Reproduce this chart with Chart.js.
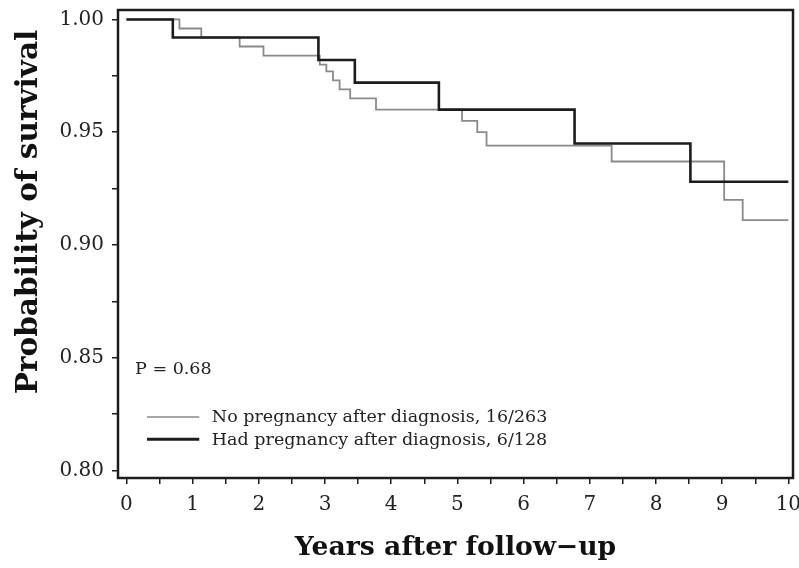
<!DOCTYPE html>
<html>
<head>
<meta charset="utf-8">
<script src="https://cdn.jsdelivr.net/npm/chart.js@4.4.1/dist/chart.umd.min.js"></script>
<style>
  html, body { margin: 0; padding: 0; background: #fff; }
  #wrap { width: 799px; height: 568px; }
</style>
</head>
<body>
<div id="wrap"><canvas id="km"></canvas></div>
<script>
// Kaplan-Meier curves (time in years, survival probability)
var noPregTime = [0, 0.80, 1.13, 1.71, 2.07, 2.92, 3.02, 3.12, 3.22, 3.38, 3.77, 5.07, 5.30, 5.44, 7.33, 9.03, 9.31, 10.0];
var noPregSurv = [1.000, 0.996, 0.992, 0.988, 0.984, 0.980, 0.977, 0.973, 0.969, 0.965, 0.960, 0.955, 0.950, 0.944, 0.937, 0.920, 0.911, 0.911];
var hadPregTime = [0, 0.70, 2.90, 3.45, 4.72, 6.77, 8.52, 10.0];
var hadPregSurv = [1.000, 0.992, 0.982, 0.972, 0.960, 0.945, 0.928, 0.928];

var seriesLabels = ['No pregnancy after diagnosis, 16/263', 'Had pregnancy after diagnosis, 6/128'];
var pValueText = 'P = 0.68';
var yTitle = 'Probability of survival';

var xTickValues = [0, 0.5, 1, 1.5, 2, 2.5, 3, 3.5, 4, 4.5, 5, 5.5, 6, 6.5, 7, 7.5, 8, 8.5, 9, 9.5, 10];
var xTickLabels = ['0', '1', '2', '3', '4', '5', '6', '7', '8', '9', '10'];
var yTickValues = [0.800, 0.825, 0.850, 0.875, 0.900, 0.925, 0.950, 0.975, 1.000];
var yTickLabels = ['0.80', '0.85', '0.90', '0.95', '1.00'];

function toPoints(xs, ys) {
    return xs.map(function(x, i) { return { x: x, y: ys[i] }; });
}

var FONT = "'DejaVu Serif', 'Liberation Serif', serif";
var INK = '#1c1c1c';

// frame box round the plot, y title, legend and p-value inside the plot
var boxAndNotes = {
    id: 'boxAndNotes',
    afterDraw: function(chart) {
        var c = chart.ctx, a = chart.chartArea;
        var xs = chart.scales.x, ys = chart.scales.y;
        c.save();
        c.strokeStyle = INK;
        c.lineWidth = 2.5;
        c.strokeRect(a.left, a.top, a.right - a.left, a.bottom - a.top);

        // y title sits a bit above the middle of the axis, as in the original
        c.save();
        c.translate(29, 212);
        c.rotate(-Math.PI / 2);
        c.fillStyle = '#111';
        c.font = 'bold 29.5px ' + FONT;
        c.textAlign = 'center';
        c.textBaseline = 'middle';
        c.fillText(yTitle, 0, 0);
        c.restore();

        c.fillStyle = '#222';
        c.font = '17.5px ' + FONT;
        c.textBaseline = 'middle';
        c.fillText(pValueText, xs.getPixelForValue(0.13), ys.getPixelForValue(0.8448));

        var rows = [
            { y: 0.8237, color: '#8a8a8a', width: 1.5, text: seriesLabels[0] },
            { y: 0.8138, color: INK, width: 2.8, text: seriesLabels[1] }
        ];
        rows.forEach(function(r) {
            var py = ys.getPixelForValue(r.y);
            c.strokeStyle = r.color;
            c.lineWidth = r.width;
            c.beginPath();
            c.moveTo(xs.getPixelForValue(0.31), py);
            c.lineTo(xs.getPixelForValue(1.10), py);
            c.stroke();
            c.fillText(r.text, xs.getPixelForValue(1.29), py + 1);
        });
        c.restore();
    }
};

new Chart(document.getElementById('km').getContext('2d'), {
    type: 'line',
    data: {
        datasets: [
            {
                label: seriesLabels[1],
                data: toPoints(hadPregTime, hadPregSurv),
                stepped: true,
                borderColor: INK,
                borderWidth: 2.6,
                pointRadius: 0,
                fill: false
            },
            {
                label: seriesLabels[0],
                data: toPoints(noPregTime, noPregSurv),
                stepped: true,
                borderColor: '#8a8a8a',
                borderWidth: 1.8,
                pointRadius: 0,
                fill: false
            }
        ]
    },
    options: {
        responsive: true,
        maintainAspectRatio: false,
        animation: false,
        layout: { padding: { top: 10, right: 6, left: 0, bottom: 0 } },
        plugins: {
            legend: { display: false },
            tooltip: { enabled: false }
        },
        scales: {
            x: {
                type: 'linear',
                min: -0.128,
                max: 10.07,
                afterFit: function(s) { s.height = 90; s.paddingLeft = 0; s.paddingRight = 0; },
                afterBuildTicks: function(s) {
                    s.ticks = xTickValues.map(function(v) { return { value: v }; });
                },
                border: { display: false },
                grid: { drawOnChartArea: false, drawTicks: true, tickLength: 6, color: INK, lineWidth: 1.5 },
                ticks: {
                    autoSkip: false,
                    maxRotation: 0,
                    padding: 9,
                    color: '#222',
                    font: { family: FONT, size: 20 },
                    callback: function(v) {
                        return Number.isInteger(v) ? xTickLabels[v] : '';
                    }
                },
                title: {
                    display: true,
                    text: 'Years after follow\u2212up',
                    color: '#111',
                    font: { family: FONT, size: 26.7, weight: 'bold' },
                    padding: { top: 4, bottom: 4 }
                }
            },
            y: {
                type: 'linear',
                min: 0.7966,
                max: 1.0042,
                afterFit: function(s) { s.width = 118; s.paddingTop = 0; s.paddingBottom = 0; },
                afterBuildTicks: function(s) {
                    s.ticks = yTickValues.map(function(v) { return { value: v }; });
                },
                border: { display: false },
                grid: { drawOnChartArea: false, drawTicks: true, tickLength: 6, color: INK, lineWidth: 1.5 },
                ticks: {
                    autoSkip: false,
                    padding: 8,
                    color: '#222',
                    font: { family: FONT, size: 20 },
                    callback: function(v) {
                        var k = Math.round((v - 0.80) / 0.05 * 1000) / 1000;
                        return Number.isInteger(k) ? yTickLabels[k] : '';
                    }
                },
                title: { display: false }
            }
        }
    },
    plugins: [boxAndNotes]
});
</script>
</body>
</html>
